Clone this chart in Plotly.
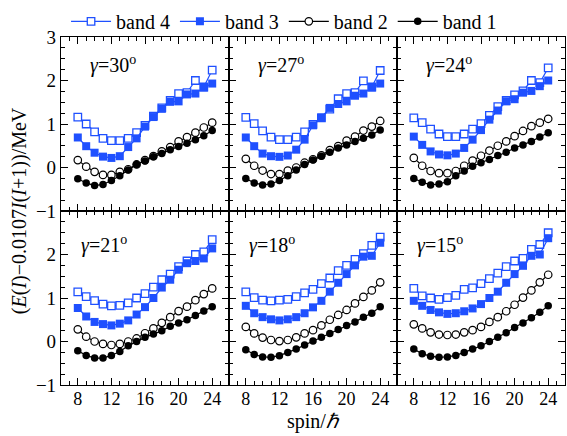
import plotly.graph_objects as go
from plotly.subplots import make_subplots

# Spin values shared by every band
spins = list(range(8, 25))

# Triaxiality gamma of each panel, row by row
gammas = [30, 27, 24, 21, 18, 15]

# Energies relative to the rotor reference, in MeV
band4_g30 = [1.16, 1.00, 0.82, 0.67, 0.62, 0.62, 0.67, 0.80, 0.97, 1.18, 1.37, 1.54, 1.70, 1.72, 2.00, 1.85, 2.24]
band3_g30 = [0.69, 0.49, 0.34, 0.25, 0.22, 0.26, 0.47, 0.67, 0.94, 1.16, 1.35, 1.51, 1.52, 1.68, 1.70, 1.84, 1.93]
band2_g30 = [0.17, 0.02, -0.10, -0.17, -0.17, -0.10, -0.04, 0.07, 0.17, 0.26, 0.37, 0.47, 0.60, 0.70, 0.80, 0.92, 1.03]
band1_g30 = [-0.26, -0.355, -0.415, -0.39, -0.30, -0.19, -0.055, 0.07, 0.15, 0.25, 0.32, 0.41, 0.48, 0.56, 0.64, 0.73, 0.85]

band4_g27 = [1.15, 1.01, 0.84, 0.70, 0.64, 0.64, 0.70, 0.82, 0.99, 1.14, 1.34, 1.58, 1.70, 1.72, 1.99, 1.85, 2.23]
band3_g27 = [0.69, 0.49, 0.32, 0.26, 0.245, 0.275, 0.41, 0.64, 0.97, 1.15, 1.37, 1.46, 1.52, 1.65, 1.70, 1.84, 1.93]
band2_g27 = [0.20, 0.04, -0.07, -0.15, -0.15, -0.07, 0.00, 0.11, 0.19, 0.28, 0.40, 0.49, 0.62, 0.71, 0.85, 0.94, 1.07]
band1_g27 = [-0.25, -0.355, -0.40, -0.38, -0.30, -0.19, -0.055, 0.07, 0.17, 0.26, 0.35, 0.45, 0.52, 0.60, 0.67, 0.75, 0.86]

band4_g24 = [1.14, 1.03, 0.88, 0.77, 0.71, 0.71, 0.77, 0.88, 1.01, 1.20, 1.40, 1.54, 1.67, 1.76, 2.00, 1.95, 2.29]
band3_g24 = [0.71, 0.52, 0.37, 0.30, 0.28, 0.32, 0.45, 0.64, 0.86, 1.10, 1.31, 1.52, 1.57, 1.72, 1.76, 1.87, 2.00]
band2_g24 = [0.22, 0.04, -0.08, -0.13, -0.13, -0.08, 0.04, 0.16, 0.27, 0.39, 0.50, 0.60, 0.72, 0.84, 0.95, 1.03, 1.12]
band1_g24 = [-0.25, -0.34, -0.40, -0.38, -0.325, -0.19, -0.08, 0.03, 0.11, 0.185, 0.275, 0.35, 0.45, 0.52, 0.60, 0.70, 0.80]

band4_g21 = [1.14, 1.03, 0.94, 0.86, 0.82, 0.83, 0.89, 1.00, 1.10, 1.25, 1.42, 1.55, 1.72, 1.85, 2.00, 2.06, 2.34]
band3_g21 = [0.77, 0.575, 0.45, 0.40, 0.37, 0.41, 0.485, 0.62, 0.79, 1.00, 1.24, 1.42, 1.65, 1.80, 1.85, 1.91, 2.14]
band2_g21 = [0.28, 0.11, 0.00, -0.055, -0.08, -0.055, 0.00, 0.07, 0.19, 0.30, 0.43, 0.56, 0.70, 0.80, 0.95, 1.09, 1.22]
band1_g21 = [-0.21, -0.32, -0.38, -0.38, -0.32, -0.23, -0.10, 0.00, 0.095, 0.17, 0.245, 0.35, 0.425, 0.50, 0.60, 0.70, 0.80]

band4_g18 = [1.14, 1.01, 0.95, 0.935, 0.95, 0.97, 1.03, 1.12, 1.20, 1.33, 1.46, 1.63, 1.75, 1.89, 2.02, 2.21, 2.40]
band3_g18 = [0.82, 0.65, 0.56, 0.51, 0.485, 0.51, 0.56, 0.65, 0.785, 0.935, 1.145, 1.35, 1.55, 1.75, 1.95, 1.97, 2.27]
band2_g18 = [0.335, 0.185, 0.09, 0.035, 0.01, 0.035, 0.095, 0.185, 0.26, 0.37, 0.50, 0.61, 0.725, 0.875, 1.025, 1.175, 1.36]
band1_g18 = [-0.19, -0.30, -0.355, -0.36, -0.325, -0.25, -0.175, -0.08, 0.01, 0.095, 0.185, 0.275, 0.37, 0.45, 0.56, 0.65, 0.80]

band4_g15 = [1.22, 1.05, 1.00, 0.97, 1.01, 1.06, 1.20, 1.235, 1.33, 1.445, 1.57, 1.72, 1.85, 1.91, 2.12, 2.23, 2.50]
band3_g15 = [0.935, 0.82, 0.725, 0.67, 0.635, 0.65, 0.695, 0.76, 0.86, 1.00, 1.145, 1.35, 1.55, 1.74, 1.97, 2.00, 2.375]
band2_g15 = [0.395, 0.30, 0.21, 0.16, 0.15, 0.16, 0.21, 0.26, 0.335, 0.45, 0.56, 0.695, 0.845, 1.01, 1.175, 1.36, 1.535]
band1_g15 = [-0.175, -0.28, -0.34, -0.36, -0.355, -0.32, -0.25, -0.175, -0.10, 0.00, 0.095, 0.20, 0.32, 0.425, 0.545, 0.67, 0.82]

band_names = ["band 4", "band 3", "band 2", "band 1"]
x_ticks = [8, 12, 16, 20, 24]
y_ticks = [-1, 0, 1, 2, 3]

panels = [
    (band4_g30, band3_g30, band2_g30, band1_g30),
    (band4_g27, band3_g27, band2_g27, band1_g27),
    (band4_g24, band3_g24, band2_g24, band1_g24),
    (band4_g21, band3_g21, band2_g21, band1_g21),
    (band4_g18, band3_g18, band2_g18, band1_g18),
    (band4_g15, band3_g15, band2_g15, band1_g15),
]

BLUE = "#1f50ff"
FONT = "Liberation Serif"

styles = [
    dict(line=dict(color=BLUE, width=1.2),
         marker=dict(symbol="square", size=7.5, color="white", line=dict(color=BLUE, width=1.3))),
    dict(line=dict(color=BLUE, width=1.2),
         marker=dict(symbol="square", size=8, color=BLUE, line=dict(color=BLUE, width=0))),
    dict(line=dict(color="black", width=1.2),
         marker=dict(symbol="circle", size=7.5, color="white", line=dict(color="black", width=1.2))),
    dict(line=dict(color="black", width=1.2),
         marker=dict(symbol="circle", size=7.5, color="black", line=dict(color="black", width=0))),
]

fig = make_subplots(rows=2, cols=3, horizontal_spacing=0, vertical_spacing=0)

for p, bands in enumerate(panels):
    r, c = p // 3 + 1, p % 3 + 1
    for k, vals in enumerate(bands):
        fig.add_trace(
            go.Scatter(x=spins, y=vals, mode="lines+markers", name=band_names[k],
                       showlegend=(p == 0), legendgroup=band_names[k], **styles[k]),
            row=r, col=c,
        )

axis_common = dict(showline=True, linecolor="black", linewidth=1.2, mirror="allticks",
                   ticks="inside", ticklen=7, tickwidth=1.2, tickcolor="black",
                   showgrid=False, zeroline=False)

for p in range(6):
    r, c = p // 3 + 1, p % 3 + 1
    fig.update_xaxes(range=[6, 26], tickvals=x_ticks, ticktext=[str(v) for v in x_ticks],
                     showticklabels=(r == 2), ticklabelstandoff=-3,
                     tickfont=dict(family=FONT, size=18, color="black"),
                     minor=dict(dtick=1, tick0=0, ticks="inside", ticklen=3.5, tickwidth=1, tickcolor="black"),
                     row=r, col=c, **axis_common)
    ytext = [("\u2212" + str(-v)) if v < 0 else str(v) for v in y_ticks]
    if r == 2:
        ytext[-1] = ""
    fig.update_yaxes(range=[-1, 3], tickvals=y_ticks, ticktext=ytext,
                     showticklabels=(c == 1),
                     tickfont=dict(family=FONT, size=19, color="black"),
                     minor=dict(dtick=0.25, tick0=0, ticks="inside", ticklen=3.5, tickwidth=1, tickcolor="black"),
                     row=r, col=c, **axis_common)

# gamma label in each panel
for p, g in enumerate(gammas):
    r, c = p // 3 + 1, p % 3 + 1
    idx = p + 1
    xref = "x domain" if idx == 1 else f"x{idx} domain"
    yref = "y domain" if idx == 1 else f"y{idx} domain"
    fig.add_annotation(text=f"<i>\u03b3</i>={g}<sup>o</sup>",
                       xref=xref, yref=yref,
                       x=0.16 if r == 1 else 0.11, y=0.84 if r == 1 else 0.81,
                       xanchor="left", yanchor="middle", showarrow=False,
                       font=dict(family=FONT, size=20, color="black"))

fig.add_annotation(text="spin/<i>\u210f</i>", xref="paper", yref="paper", x=0.5, y=-0.104,
                   xanchor="center", yanchor="middle", showarrow=False,
                   font=dict(family=FONT, size=20, color="black"))
fig.add_annotation(text="(<i>E</i>(<i>I</i>)\u22120.0107<i>I</i>(<i>I</i>+1))/MeV",
                   xref="paper", yref="paper", x=-0.083, y=0.5, textangle=-90,
                   xanchor="center", yanchor="middle", showarrow=False,
                   font=dict(family=FONT, size=20, color="black"))

fig.update_layout(
    width=567, height=436,
    margin=dict(l=61, r=2, t=31, b=51),
    paper_bgcolor="white", plot_bgcolor="white",
    legend=dict(orientation="h", x=0.01, y=1.045, xanchor="left", yanchor="middle",
                font=dict(family=FONT, size=20, color="black"),
                itemwidth=40, bgcolor="rgba(0,0,0,0)", tracegroupgap=0),
    font=dict(family=FONT, color="black"),
)

fig.write_html("out.html")
